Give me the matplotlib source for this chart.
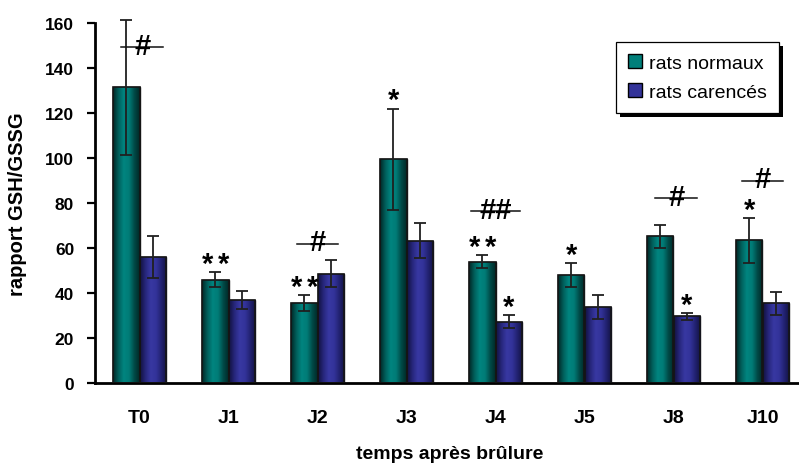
import numpy as np
import matplotlib
matplotlib.use("Agg")
import matplotlib.pyplot as plt
from matplotlib.colors import LinearSegmentedColormap
from matplotlib.patches import Rectangle
from matplotlib.transforms import IdentityTransform
from matplotlib.textpath import TextPath
from matplotlib.font_manager import FontProperties

plt.rcParams['font.family'] = ['Liberation Sans', 'DejaVu Sans']

categories = ["T0", "J1", "J2", "J3", "J4", "J5", "J8", "J10"]
normaux = [131.5, 46.0, 35.5, 99.5, 54.0, 48.0, 65.2, 63.4]
normaux_err = [30.0, 3.5, 3.6, 22.5, 3.0, 5.2, 5.2, 10.0]
carences = [56.0, 37.0, 48.5, 63.3, 27.3, 33.8, 29.6, 35.4]
carences_err = [9.5, 4.0, 6.0, 7.8, 3.0, 5.3, 1.5, 5.0]
stars_normaux = [0, 2, 2, 1, 2, 1, 0, 1]
stars_carences = [0, 0, 0, 0, 1, 0, 1, 0]
hash_marks = ["#", "", "#", "", "##", "", "#", "#"]
hash_levels = [149.3, None, 61.8, None, 76.4, None, 82.2, 89.8]
hash_shift = [0.03, 0, 0, 0, 0, 0, 0.03, 0]

W, H = 799, 464
fig = plt.figure(figsize=(W / 100, H / 100), dpi=100)
ax = fig.add_axes([95 / W, 1 - 384 / H, 712 / W, 360 / H])

x = np.arange(len(categories))
bw = 0.30

green_cmap = LinearSegmentedColormap.from_list(
    "g", ["#002826", "#00605c", "#008580", "#007b76", "#004a47", "#002826"])
blue_cmap = LinearSegmentedColormap.from_list(
    "b", ["#121240", "#27277c", "#3838a2", "#33339a", "#222270", "#121240"])

bars_n = ax.bar(x - bw / 2, normaux, bw, color="#007f7a", edgecolor="#1a1a1a",
                linewidth=1.0, zorder=2, label="rats normaux")
bars_c = ax.bar(x + bw / 2, carences, bw, color="#333399", edgecolor="#1a1a1a",
                linewidth=1.0, zorder=2, label="rats carencés")

grad = np.linspace(0, 1, 64).reshape(1, -1)
for bars, cmap in ((bars_n, green_cmap), (bars_c, blue_cmap)):
    for b in bars:
        x0, y0 = b.get_x(), b.get_y()
        w, h = b.get_width(), b.get_height()
        im = ax.imshow(grad, cmap=cmap, aspect="auto",
                       extent=(x0, x0 + w, y0, y0 + h), zorder=2.5)
        im.set_clip_path(b)
        r = Rectangle((x0, y0), w, h, fill=False, edgecolor="#151515",
                      linewidth=1.2, zorder=2.6)
        ax.add_patch(r)

for xs, vals, errs in ((x - bw / 2, normaux, normaux_err), (x + bw / 2, carences, carences_err)):
    eb = ax.errorbar(xs, vals, yerr=errs, fmt="none", ecolor="#202020",
                     elinewidth=1.3, capsize=4, capthick=1.3, zorder=3)
    for art in eb.lines[1] + eb.lines[2]:
        art.set_clip_on(False)

STAR_SIZE = 21
HASH_SIZE = 21
bold_fp = FontProperties(family="Liberation Sans", weight="bold")

def glyph_mid(s, size):
    ext = TextPath((0, 0), s, size=size, prop=bold_fp).get_extents()
    return (ext.y0 + ext.y1) / 2.0

HASH_MID = glyph_mid("#", HASH_SIZE)

def put_stars(xc, top, n):
    if n == 0:
        return
    dxs = [0.0] if n == 1 else [-5.8, 5.8]
    for dx in dxs:
        ax.annotate("*", (xc, top), xytext=(dx, 12.0 - 0.565 * STAR_SIZE),
                    textcoords="offset points", ha="center", va="baseline",
                    fontsize=STAR_SIZE, fontweight="bold", zorder=4,
                    annotation_clip=False)

for i in range(len(categories)):
    put_stars(x[i] - bw / 2, normaux[i] + normaux_err[i], stars_normaux[i])
    put_stars(x[i] + bw / 2, carences[i] + carences_err[i], stars_carences[i])
    if hash_marks[i]:
        lvl = hash_levels[i]
        cx = x[i] + hash_shift[i]
        half = 0.235 if len(hash_marks[i]) == 1 else 0.28
        ax.plot([cx - half, cx + half], [lvl, lvl], color="#111111", lw=1.1,
                zorder=4, clip_on=False)
        ax.annotate(hash_marks[i], (cx, lvl), xytext=(0, -HASH_MID + 2.5),
                    textcoords="offset points", ha="center", va="baseline",
                    fontsize=HASH_SIZE, fontweight="bold", zorder=5,
                    annotation_clip=False)

ax.set_xlim(-0.5, 7.5)
ax.set_ylim(0, 160)
ax.set_yticks(np.arange(0, 161, 20))
ax.set_xticks(x)
ax.set_xticklabels(categories, fontsize=14, fontweight="bold")
ax.tick_params(axis="x", length=0, pad=19)
ax.tick_params(axis="y", direction="out", length=6, width=1.6, labelsize=12.5, pad=9)
for lab in ax.get_yticklabels():
    lab.set_fontweight("bold")
for s in ("top", "right"):
    ax.spines[s].set_visible(False)
for s in ("left", "bottom"):
    ax.spines[s].set_linewidth(2.0)

ax.set_ylabel("rapport GSH/GSSG", fontsize=14.5, fontweight="bold")
ax.yaxis.set_label_coords((27 - 95) / 712, 0.5)
fig.text(450 / W, 1 - 455 / H, "temps après brûlure", ha="center", va="center",
         fontsize=14, fontweight="bold")

leg = ax.legend(loc="upper left", bbox_to_anchor=(616 / W, 1 - 43 / H),
                bbox_transform=fig.transFigure, fontsize=14, frameon=True,
                fancybox=False, shadow=False, framealpha=1.0,
                edgecolor="black", handlelength=0.75, handleheight=0.75,
                handletextpad=0.35, labelspacing=0.6, borderpad=0.6,
                borderaxespad=0.0)
leg.get_frame().set_linewidth(0.9)
leg.set_zorder(10)
for hnd in leg.legend_handles:
    hnd.set_edgecolor("black")
    hnd.set_linewidth(1.0)

fig.canvas.draw()
bb = leg.get_frame().get_window_extent()
shadow = Rectangle((bb.x0 + 4, bb.y0 - 4), bb.width, bb.height, transform=IdentityTransform(),
                   facecolor="black", edgecolor="none", zorder=9.9)
ax.add_patch(shadow)
shadow.set_clip_on(False)

fig.savefig("out.png", dpi=100)
